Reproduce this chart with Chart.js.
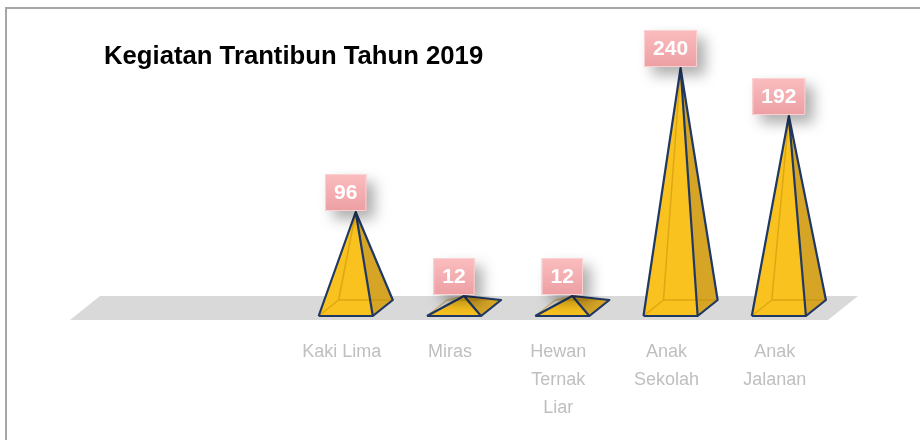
<!DOCTYPE html>
<html>
<head>
<meta charset="utf-8">
<script src="https://cdn.jsdelivr.net/npm/chart.js@4/dist/chart.umd.min.js"></script>
<style>
  html, body { margin: 0; padding: 0; background: #fff; }
  #wrap { width: 920px; height: 440px; position: relative; overflow: hidden; }
</style>
</head>
<body>
<div id="wrap"><canvas id="c" width="920" height="440"></canvas></div>
<script>
// ── DATA ──────────────────────────────────────────────────────────────────
const chartTitle = 'Kegiatan Trantibun Tahun 2019';
// two empty slots on the left, like the original sheet
const categories = ['', '', 'Kaki Lima', 'Miras', ['Hewan', 'Ternak', 'Liar'], ['Anak', 'Sekolah'], ['Anak', 'Jalanan']];
const values     = [null, null, 96, 12, 12, 240, 192];
const yMax       = 260;

// ── STYLE ─────────────────────────────────────────────────────────────────
const FRONT   = '#F9C21F';
const SIDE    = '#D6A526';
const INNER   = 'rgba(190,135,0,0.45)';
const EDGE    = '#203864';
const FLOOR   = '#D9D9D9';
const DEPTH   = { dx: 20, dy: 16 };   // pyramid base depth
const FLOOR_D = { dx: 30, dy: 24 };   // floor depth

// frame + title
const framePlugin = {
  id: 'frame',
  beforeDraw(chart) {
    const ctx = chart.ctx;
    ctx.save();
    ctx.strokeStyle = '#A6A6A6';
    ctx.lineWidth = 2;
    ctx.beginPath();
    ctx.moveTo(6, 440);
    ctx.lineTo(6, 8);
    ctx.lineTo(920, 8);
    ctx.stroke();
    ctx.fillStyle = '#000';
    ctx.font = 'bold 25.7px "Liberation Sans", Arial, sans-serif';
    ctx.textBaseline = 'alphabetic';
    ctx.fillText(chartTitle, 104, 64);
    ctx.restore();
  }
};

// grey 3D floor under the bars
const floorPlugin = {
  id: 'floor',
  beforeDatasetsDraw(chart) {
    const { ctx, chartArea } = chart;
    const y0 = chart.scales.y.getPixelForValue(0);
    const hx = FLOOR_D.dx / 2, hy = FLOOR_D.dy / 2;
    ctx.save();
    ctx.fillStyle = FLOOR;
    ctx.beginPath();
    ctx.moveTo(chartArea.left - hx, y0 + hy);
    ctx.lineTo(chartArea.right - hx, y0 + hy);
    ctx.lineTo(chartArea.right + hx, y0 - hy);
    ctx.lineTo(chartArea.left + hx, y0 - hy);
    ctx.closePath();
    ctx.fill();
    ctx.restore();
  }
};

function poly(ctx, pts) {
  ctx.beginPath();
  ctx.moveTo(pts[0][0], pts[0][1]);
  for (let i = 1; i < pts.length; i++) ctx.lineTo(pts[i][0], pts[i][1]);
  ctx.closePath();
}

// pyramids + value boxes, placed from the bar elements
const pyramidPlugin = {
  id: 'pyramids',
  afterDatasetsDraw(chart) {
    const ctx = chart.ctx;
    const meta = chart.getDatasetMeta(0);
    const hx = DEPTH.dx / 2, hy = DEPTH.dy / 2;
    ctx.save();
    meta.data.forEach((bar, i) => {
      const v = values[i];
      if (v == null) return;
      const { x, y, base, width } = bar.getProps(['x', 'y', 'base', 'width'], true);
      const w2 = width / 2;
      const apex = [x, y];
      const fl = [x - w2 - hx, base + hy];
      const fr = [x + w2 - hx, base + hy];
      const br = [x + w2 + hx, base - hy];
      const bl = [x - w2 + hx, base - hy];

      // faces
      ctx.fillStyle = FRONT;
      poly(ctx, [apex, fl, fr]); ctx.fill();
      ctx.fillStyle = SIDE;
      poly(ctx, [apex, fr, br]); ctx.fill();
      // hidden edges seen through
      ctx.strokeStyle = INNER;
      ctx.lineWidth = 1.5;
      ctx.beginPath();
      ctx.moveTo(apex[0], apex[1]); ctx.lineTo(bl[0], bl[1]);
      ctx.moveTo(fl[0], fl[1]); ctx.lineTo(bl[0], bl[1]); ctx.lineTo(br[0], br[1]);
      ctx.stroke();
      // outline
      ctx.strokeStyle = EDGE;
      ctx.lineWidth = 2.2;
      ctx.lineJoin = 'round';
      ctx.beginPath();
      ctx.moveTo(fl[0], fl[1]); ctx.lineTo(apex[0], apex[1]); ctx.lineTo(fr[0], fr[1]);
      ctx.moveTo(apex[0], apex[1]); ctx.lineTo(br[0], br[1]); ctx.lineTo(fr[0], fr[1]); ctx.lineTo(fl[0], fl[1]);
      ctx.stroke();
    });

    // value boxes
    ctx.font = 'bold 21px "Liberation Sans", Arial, sans-serif';
    ctx.textAlign = 'center';
    ctx.textBaseline = 'middle';
    meta.data.forEach((bar, i) => {
      const v = values[i];
      if (v == null) return;
      const { x, y } = bar.getProps(['x', 'y'], true);
      const txt = String(v);
      const bw = ctx.measureText(txt).width + 18;
      const bh = 37;
      const cx = x - 10;
      const top = y - 1 - bh;
      ctx.save();
      ctx.shadowColor = 'rgba(0,0,0,0.32)';
      ctx.shadowBlur = 14;
      ctx.shadowOffsetX = 8;
      ctx.shadowOffsetY = 8;
      const g = ctx.createLinearGradient(0, top, 0, top + bh);
      g.addColorStop(0, '#FBBDBF');
      g.addColorStop(1, '#EC9FA3');
      ctx.fillStyle = g;
      ctx.fillRect(cx - bw / 2, top, bw, bh);
      ctx.restore();
      ctx.strokeStyle = '#FAD2D3';
      ctx.lineWidth = 1;
      ctx.strokeRect(cx - bw / 2 + 0.5, top + 0.5, bw - 1, bh - 1);
      ctx.fillStyle = '#fff';
      ctx.fillText(txt, cx, top + bh / 2 + 1);
    });
    ctx.restore();
  }
};

new Chart(document.getElementById('c'), {
  type: 'bar',
  data: {
    labels: categories,
    datasets: [{
      data: values,
      backgroundColor: 'rgba(0,0,0,0)',
      borderWidth: 0,
      categoryPercentage: 1,
      barPercentage: 0.5,
    }],
  },
  options: {
    responsive: false,
    animation: false,
    // multi-line labels reserve one extra line, hence the negative bottom
    layout: { padding: { top: 48, left: 85, right: 77, bottom: -12 } },
    plugins: {
      legend: { display: false },
      tooltip: { enabled: false },
      title: { display: false },
    },
    scales: {
      x: {
        grid: { display: false, drawTicks: false },
        border: { display: false },
        ticks: {
          color: '#BFBFBF',
          font: { family: '"Liberation Sans", Arial, sans-serif', size: 18, lineHeight: '28px' },
          padding: 30,
          labelOffset: -14,
          maxRotation: 0,
          autoSkip: false,
        },
      },
      y: { display: false, min: 0, max: yMax },
    },
  },
  plugins: [framePlugin, floorPlugin, pyramidPlugin],
});
</script>
</body>
</html>
